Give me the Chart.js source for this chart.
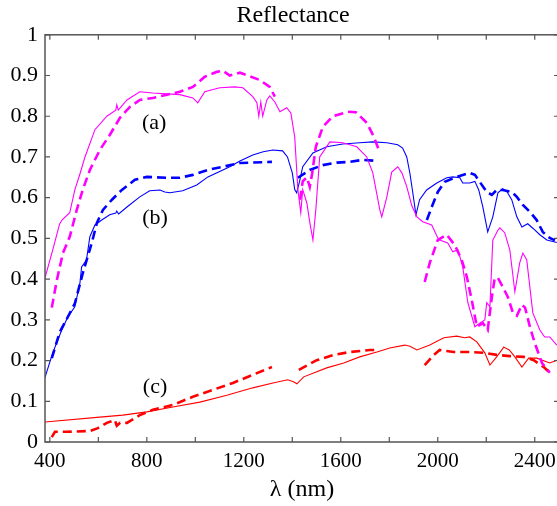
<!DOCTYPE html>
<html>
<head>
<meta charset="utf-8">
<script src="https://cdn.jsdelivr.net/npm/chart.js@4/dist/chart.umd.min.js"></script>
<style>
  html, body { margin: 0; padding: 0; background: #fff; overflow: hidden; }
  canvas { display: block; }
</style>
</head>
<body>
<canvas id="grafica" width="586" height="506"></canvas>
<script>
// espectros de reflectancia, longitud de onda en nm
const magentaSolidNm = [380, 412, 440, 450, 482, 503, 525, 545, 586, 635, 672, 676, 682, 718, 771, 825, 883, 936, 990, 1010,
  1039, 1101, 1163, 1196, 1237, 1254, 1262, 1270, 1278, 1295, 1307, 1328, 1349, 1377, 1394, 1410, 1423, 1435, 1443, 1460,
  1472, 1485, 1497, 1513, 1555, 1608, 1666, 1707, 1732, 1761, 1769, 1790, 1810, 1835, 1852, 1872, 1893, 1914, 1938, 1975,
  2000, 2008, 2041, 2062, 2083, 2103, 2124, 2153, 2173, 2194, 2202, 2215, 2227, 2248, 2256, 2276, 2297, 2318, 2338, 2351,
  2367, 2392, 2421, 2441, 2462, 2491];
const magentaSolidR = [0.403, 0.472, 0.535, 0.545, 0.563, 0.619, 0.66, 0.70, 0.767, 0.80, 0.815, 0.828, 0.815, 0.84, 0.86, 0.857, 0.855, 0.853, 0.845, 0.833,
  0.86, 0.87, 0.872, 0.87, 0.848, 0.833, 0.80, 0.835, 0.80, 0.84, 0.85, 0.835, 0.811, 0.821, 0.808, 0.749, 0.62, 0.563, 0.62, 0.587,
  0.54, 0.496, 0.57, 0.70, 0.737, 0.735, 0.725, 0.70, 0.661, 0.57, 0.553, 0.602, 0.663, 0.676, 0.661, 0.627, 0.58, 0.553, 0.541, 0.533,
  0.501, 0.496, 0.489, 0.467, 0.472, 0.43, 0.342, 0.283, 0.292, 0.30, 0.342, 0.332, 0.496, 0.52, 0.526, 0.514, 0.472, 0.369, 0.44, 0.464,
  0.447, 0.317, 0.275, 0.258, 0.258, 0.238];

const magentaDashNm = [408, 429, 454, 482, 511, 536, 565, 606, 647, 689, 730, 771, 825, 883, 936, 990, 1039, 1089, 1113, 1142,
  1184, 1217, 1266, 1307, 1328, 1380, 1432, 1443, 1460, 1472, 1482, 1497, 1526, 1567, 1629, 1662, 1707, 1736, 1757, 1850,
  1946, 1967, 2000, 2037, 2070, 2099, 2120, 2140, 2161, 2186, 2206, 2223, 2235, 2248, 2268, 2289, 2310, 2326, 2347, 2360,
  2380, 2400, 2430, 2462];
const magentaDashR = [0.33, 0.398, 0.464, 0.504, 0.57, 0.62, 0.668, 0.717, 0.754, 0.796, 0.823, 0.84, 0.845, 0.853, 0.86, 0.872, 0.897, 0.909, 0.912, 0.90,
  0.907, 0.90, 0.889, 0.872, 0.848, null, 0.595, 0.64, 0.65, 0.627, 0.66, 0.725, 0.774, 0.80, 0.811, 0.81, 0.784, 0.75, 0.717, null,
  0.393, 0.44, 0.496, 0.509, 0.484, 0.447, 0.405, 0.349, 0.283, 0.292, 0.275, 0.356, 0.403, 0.403, 0.381, 0.356, 0.317, 0.31, 0.337, 0.33,
  0.283, 0.243, 0.194, 0.17];

const blueSolidNm = [379, 412, 449, 474, 503, 524, 531, 551, 565, 586, 614, 647, 672, 676, 684, 718, 771, 812, 854, 874,
  895, 948, 1006, 1052, 1142, 1184, 1237, 1280, 1320, 1360, 1380, 1400, 1410, 1418, 1430, 1443, 1485, 1542, 1608, 1678,
  1732, 1790, 1835, 1855, 1872, 1885, 1897, 1910, 1925, 1954, 1996, 2037, 2062, 2091, 2103, 2132, 2153, 2169, 2186, 2206,
  2227, 2248, 2268, 2285, 2305, 2326, 2347, 2371, 2392, 2421, 2450, 2491];
const blueSolidR = [0.157, 0.219, 0.275, 0.307, 0.332, 0.39, 0.43, 0.447, 0.504, 0.533, 0.545, 0.558, 0.562, 0.567, 0.56, 0.577, 0.602, 0.617, 0.619, 0.614,
  0.612, 0.617, 0.631, 0.651, 0.676, 0.69, 0.705, 0.713, 0.717, 0.715, 0.70, 0.661, 0.62, 0.612, 0.64, 0.676, 0.71, 0.725, 0.732, 0.735,
  0.737, 0.735, 0.73, 0.722, 0.70, 0.66, 0.612, 0.558, 0.595, 0.619, 0.636, 0.649, 0.651, 0.649, 0.636, 0.636, 0.64, 0.619, 0.577, 0.516,
  0.553, 0.612, 0.622, 0.615, 0.595, 0.553, 0.528, 0.536, 0.525, 0.509, 0.496, 0.49];

const blueDashNm = [408, 441, 474, 503, 536, 573, 594, 619, 656, 697, 751, 800, 883, 936, 990, 1052, 1089, 1184, 1316, 1370,
  1423, 1472, 1526, 1584, 1637, 1691, 1753, 1850, 1955, 1975, 2000, 2029, 2078, 2132, 2153, 2173, 2202, 2223, 2243, 2268,
  2305, 2326, 2351, 2380, 2408, 2433, 2462, 2483];
const blueDashR = [0.206, 0.27, 0.307, 0.34, 0.415, 0.489, 0.538, 0.57, 0.595, 0.619, 0.644, 0.651, 0.649, 0.649, 0.656, 0.668, 0.673, 0.685, 0.688, null,
  0.649, 0.668, 0.68, 0.686, 0.688, 0.693, 0.69, null, 0.545, 0.577, 0.614, 0.639, 0.651, 0.661, 0.656, 0.639, 0.614, 0.607, 0.619, 0.619,
  0.614, 0.602, 0.582, 0.565, 0.545, 0.516, 0.501, 0.495];

const redSolidNm = [379, 606, 701, 800, 907, 1019, 1130, 1237, 1320, 1381, 1405, 1419, 1447, 1542, 1612, 1678, 1749, 1802, 1864, 1885,
  1914, 1967, 2025, 2078, 2111, 2132, 2161, 2194, 2215, 2243, 2272, 2295, 2318, 2347, 2375, 2408, 2440, 2462, 2491];
const redSolidR = [0.049, 0.061, 0.066, 0.074, 0.086, 0.098, 0.115, 0.133, 0.145, 0.153, 0.148, 0.143, 0.16, 0.182, 0.194, 0.209, 0.221, 0.231, 0.238, 0.235,
  0.226, 0.238, 0.256, 0.26, 0.256, 0.258, 0.246, 0.219, 0.189, 0.209, 0.233, 0.226, 0.209, 0.184, 0.206, 0.206, 0.199, 0.194, 0.201];

const redDashNm = [408, 421, 470, 565, 598, 635, 668, 676, 690, 718, 771, 825, 907, 990, 1072, 1155, 1237, 1316, 1370, 1427,
  1501, 1571, 1637, 1720, 1757, 1850, 1946, 1984, 2008, 2066, 2132, 2190, 2243, 2297, 2355, 2396, 2437, 2462];
const redDashR = [0.012, 0.025, 0.025, 0.027, 0.034, 0.047, 0.054, 0.04, 0.047, 0.047, 0.066, 0.079, 0.091, 0.111, 0.128, 0.145, 0.165, 0.184, null, 0.177,
  0.201, 0.214, 0.221, 0.226, 0.226, null, 0.189, 0.214, 0.226, 0.221, 0.221, 0.219, 0.214, 0.211, 0.209, 0.201, 0.184, 0.17];

const xTicks = [400, 600, 800, 1000, 1200, 1400, 1600, 1800, 2000, 2200, 2400];
const yTicks = [0, 0.1, 0.2, 0.3, 0.4, 0.5, 0.6, 0.7, 0.8, 0.9, 1];

const etiquetas = ["(a)", "(b)", "(c)"];
const etiquetasNm = [830, 834, 834];
const etiquetasR = [0.784, 0.55, 0.135];

const serif = "'Liberation Serif', 'Times New Roman', serif";

function puntos(nm, r) {
  return nm.map((x, i) => ({ x: x, y: r[i] }));
}

function serie(nm, r, color, dashed) {
  return {
    data: puntos(nm, r),
    borderColor: color,
    borderWidth: dashed ? 2.6 : 1.1,
    borderDash: dashed ? [9, 5] : [],
    pointRadius: 0,
    tension: 0,
    spanGaps: false,
    fill: false
  };
}

// marco con marcas hacia dentro en los cuatro lados y rótulos (a), (b), (c)
const marco = {
  id: "marco",
  afterDatasetsDraw(chart) {
    const { ctx, chartArea: a, scales } = chart;
    const largo = 5;
    ctx.save();
    ctx.strokeStyle = "#555";
    ctx.lineWidth = 1.5;
    ctx.strokeRect(a.left, a.top, a.right - a.left, a.bottom - a.top);
    ctx.lineWidth = 1.2;
    ctx.beginPath();
    xTicks.forEach(v => {
      const px = scales.x.getPixelForValue(v);
      ctx.moveTo(px, a.bottom); ctx.lineTo(px, a.bottom - largo);
      ctx.moveTo(px, a.top); ctx.lineTo(px, a.top + largo);
    });
    yTicks.forEach(v => {
      const py = scales.y.getPixelForValue(v);
      ctx.moveTo(a.left, py); ctx.lineTo(a.left + largo, py);
      ctx.moveTo(a.right, py); ctx.lineTo(a.right - largo, py);
    });
    ctx.stroke();

    ctx.fillStyle = "#000";
    ctx.font = "22px " + serif;
    ctx.textAlign = "center";
    ctx.textBaseline = "middle";
    etiquetas.forEach((t, i) => {
      ctx.fillText(t, scales.x.getPixelForValue(etiquetasNm[i]), scales.y.getPixelForValue(etiquetasR[i]));
    });
    ctx.restore();
  }
};

new Chart(document.getElementById("grafica"), {
  type: "line",
  data: {
    datasets: [
      serie(magentaSolidNm, magentaSolidR, "#ff00ff", false),
      serie(magentaDashNm, magentaDashR, "#ff00ff", true),
      serie(blueSolidNm, blueSolidR, "#0000ff", false),
      serie(blueDashNm, blueDashR, "#0000ff", true),
      serie(redSolidNm, redSolidR, "#ff0000", false),
      serie(redDashNm, redDashR, "#ff0000", true)
    ]
  },
  options: {
    responsive: false,
    animation: false,
    events: [],
    layout: { padding: 0 },
    plugins: {
      legend: { display: false },
      tooltip: { enabled: false },
      title: {
        display: true,
        text: "Reflectance",
        color: "#000",
        font: { family: serif, size: 24, weight: "normal" },
        padding: { top: 1, bottom: 5 }
      }
    },
    scales: {
      x: {
        type: "linear",
        min: 380,
        max: 2500,
        grid: { display: false, drawTicks: false },
        border: { display: false },
        afterBuildTicks: s => { s.ticks = xTicks.map(v => ({ value: v })); },
        afterFit: s => { s.height = 64; },
        ticks: {
          autoSkip: false,
          maxRotation: 0,
          padding: 7,
          color: "#000",
          font: { family: serif, size: 21 },
          callback: v => (v % 400 === 0 ? String(v) : "")
        },
        title: {
          display: true,
          text: "λ (nm)",
          color: "#000",
          font: { family: serif, size: 24 },
          padding: { top: 0, bottom: 2 }
        }
      },
      y: {
        type: "linear",
        min: 0,
        max: 1,
        grid: { display: false, drawTicks: false },
        border: { display: false },
        afterBuildTicks: s => { s.ticks = yTicks.map(v => ({ value: v })); },
        afterFit: s => { s.width = 45; },
        ticks: {
          padding: 7,
          color: "#000",
          font: { family: serif, size: 22 },
          callback: v => String(Math.round(v * 10) / 10)
        }
      },
      // eje derecho sin rótulos: solo reserva el margen a la derecha del marco
      yDer: {
        type: "linear",
        position: "right",
        min: 0,
        max: 1,
        grid: { display: false, drawTicks: false },
        border: { display: false },
        ticks: { display: false },
        afterFit: s => { s.width = 27; }
      }
    }
  },
  plugins: [marco]
});
</script>
</body>
</html>
